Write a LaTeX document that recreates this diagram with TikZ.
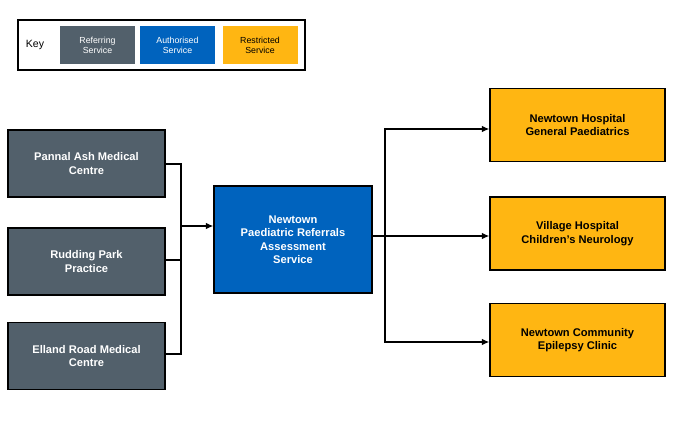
\documentclass[tikz,border=0pt]{standalone}
\usepackage{fontspec}
\setmainfont{Liberation Sans}
\usetikzlibrary{arrows.meta}
\definecolor{refgrey}{HTML}{52606B}
\definecolor{authblue}{HTML}{0063BE}
\definecolor{restrictgold}{HTML}{FFB612}
\tikzstyle{arrow} = [line width=1.2pt,-{Latex[length=2.2mm,width=2mm]}]
\tikzstyle{link} = [line width=1.2pt]
\tikzstyle{box} = [rectangle, draw=black, line width=1.2pt, align=center, font=\bfseries\fontsize{9.5}{11.5}\selectfont]
\tikzstyle{referring} = [box, fill=refgrey, text=white, minimum width=4.71cm, minimum height=2.0cm]
\tikzstyle{authorised} = [box, fill=authblue, text=white, minimum width=4.74cm, minimum height=3.21cm]
\tikzstyle{restricted} = [box, fill=restrictgold, text=black, minimum width=5.25cm, minimum height=2.2cm]
\tikzstyle{keycell} = [rectangle, minimum width=2.25cm, minimum height=1.14cm, align=center, font=\fontsize{7.5}{8.5}\selectfont]
\begin{document}
\begin{tikzpicture}[x=0.03cm, y=-0.03cm]
\useasboundingbox (0,0) rectangle (677,443);
% Key
\node (key) [draw=black, line width=1.4pt, minimum width=8.61cm, minimum height=1.5cm] at (161.5,45) {};
\node (keylabel) [font=\fontsize{9}{10}\selectfont] at (35,45) {Key};
\node (keyref) [keycell, fill=refgrey, text=white] at (97.5,45) {Referring\\Service};
\node (keyauth) [keycell, fill=authblue, text=white] at (177.5,45) {Authorised\\Service};
\node (keyres) [keycell, fill=restrictgold] at (260,45) {Restricted\\Service};
% Services
\node (pannal) [referring] at (86.5,163.5) {Pannal Ash Medical\\Centre};
\node (rudding) [referring] at (86.5,261.5) {Rudding Park\\Practice};
\node (elland) [referring] at (86.5,356) {Elland Road Medical\\Centre};
\node (assess) [authorised] at (293,239.5) {Newtown\\Paediatric Referrals\\Assessment\\Service};
\node (general) [restricted] at (577.5,125) {Newtown Hospital\\General Paediatrics};
\node (neuro) [restricted] at (577.5,233.5) {Village Hospital\\Children’s Neurology};
\node (epilepsy) [restricted] at (577.5,340) {Newtown Community\\Epilepsy Clinic};
% Connectors
\coordinate (inbus) at (181,226);
\coordinate (injoin) at (181,260);
\coordinate (outbus) at (385,236);
\draw [link] (pannal.east |- 0,164) -| (inbus);
\draw [link] (elland.east |- 0,354) -| (inbus);
\draw [link] (rudding.east |- injoin) -- (injoin);
\draw [arrow] (inbus) -- (assess.west |- inbus);
\draw [link] (assess.east |- outbus) -- (outbus);
\draw [arrow] (outbus) |- (general.west |- 0,129);
\draw [arrow] (outbus) -- (neuro.west |- outbus);
\draw [arrow] (outbus) |- (epilepsy.west |- 0,342);
\end{tikzpicture}
\end{document}
